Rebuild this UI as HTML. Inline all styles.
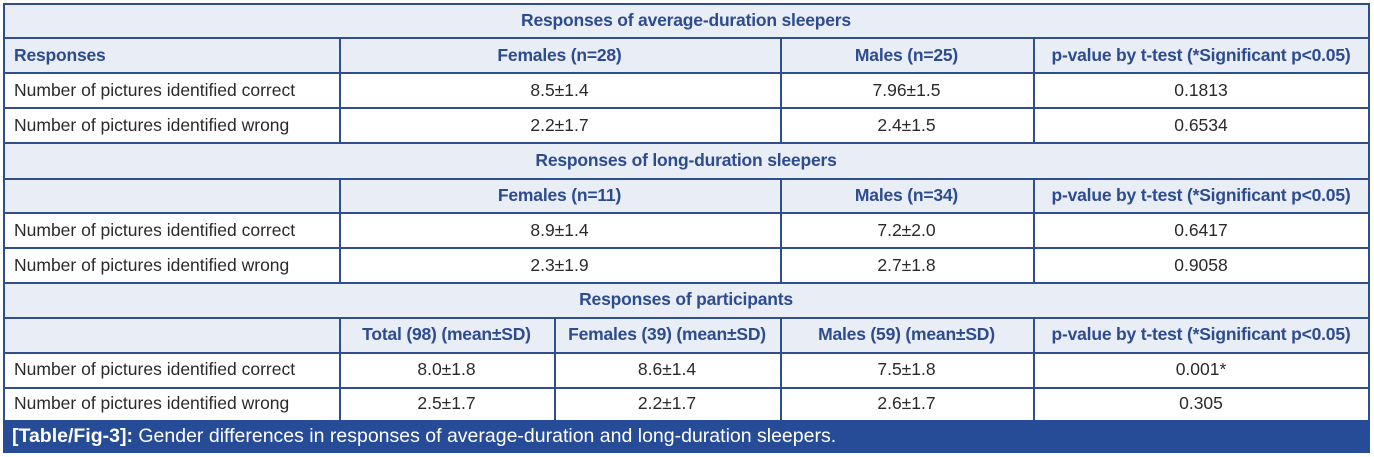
<!DOCTYPE html>
<html><head><meta charset="utf-8"><style>
body{margin:0;width:1374px;height:457px;background:#fff;position:relative;overflow:hidden;font-family:"Liberation Sans",Arial,sans-serif;}
.bg{position:absolute;left:3px;width:1366px;background:#e9edf6;}
.h{position:absolute;height:1.5px;background:#2f4e8c;}
.v{position:absolute;width:1.5px;background:#2f4e8c;}
.t{position:absolute;height:35px;line-height:35px;font-size:17.5px;color:#2a2a2a;text-align:center;white-space:nowrap;}
.b{color:#2d4c8e;font-weight:bold;font-size:17.5px;letter-spacing:-0.2px}
.l{text-align:left;padding-left:11px;}
.foot{position:absolute;left:3px;top:420px;width:1367px;height:33px;background:#264b97;color:#fff;font-size:19.5px;line-height:33px;padding-left:9px;box-sizing:border-box;white-space:nowrap;}
</style></head><body>
<div class="bg" style="top:3px;height:69px"></div>
<div class="bg" style="top:143px;height:69px"></div>
<div class="bg" style="top:282px;height:70px"></div>

<div class="h" style="left:3px;width:1367px;top:3px"></div>
<div class="h" style="left:3px;width:1367px;top:37px"></div>
<div class="h" style="left:3px;width:1367px;top:72px"></div>
<div class="h" style="left:3px;width:1367px;top:107px"></div>
<div class="h" style="left:3px;width:1367px;top:142px"></div>
<div class="h" style="left:3px;width:1367px;top:178px"></div>
<div class="h" style="left:3px;width:1367px;top:212px"></div>
<div class="h" style="left:3px;width:1367px;top:247px"></div>
<div class="h" style="left:3px;width:1367px;top:282px"></div>
<div class="h" style="left:3px;width:1367px;top:317px"></div>
<div class="h" style="left:3px;width:1367px;top:352px"></div>
<div class="h" style="left:3px;width:1367px;top:387px"></div>

<div class="v" style="left:3px;top:3px;height:418px"></div>
<div class="v" style="left:1368px;top:3px;height:418px"></div>

<div class="v" style="left:339px;top:37px;height:105px"></div>
<div class="v" style="left:780px;top:37px;height:105px"></div>
<div class="v" style="left:1033px;top:37px;height:105px"></div>

<div class="v" style="left:339px;top:178px;height:104px"></div>
<div class="v" style="left:780px;top:178px;height:104px"></div>
<div class="v" style="left:1033px;top:178px;height:104px"></div>

<div class="v" style="left:339px;top:317px;height:103px"></div>
<div class="v" style="left:554px;top:317px;height:103px"></div>
<div class="v" style="left:780px;top:317px;height:103px"></div>
<div class="v" style="left:1033px;top:317px;height:103px"></div>

<div class="t b" style="left:3px;width:1366px;top:3px">Responses of average-duration sleepers</div>
<div class="t b l" style="left:3px;width:325px;top:38px">Responses</div>
<div class="t b" style="left:339px;width:441px;top:38px">Females (n=28)</div>
<div class="t b" style="left:780px;width:253px;top:38px">Males (n=25)</div>
<div class="t b" style="left:1033px;width:336px;top:38px">p-value by t-test (*Significant p&lt;0.05)</div>
<div class="t l" style="left:3px;width:325px;top:73px">Number of pictures identified correct</div>
<div class="t" style="left:339px;width:441px;top:73px">8.5±1.4</div>
<div class="t" style="left:780px;width:253px;top:73px">7.96±1.5</div>
<div class="t" style="left:1033px;width:336px;top:73px">0.1813</div>
<div class="t l" style="left:3px;width:325px;top:108px">Number of pictures identified wrong</div>
<div class="t" style="left:339px;width:441px;top:108px">2.2±1.7</div>
<div class="t" style="left:780px;width:253px;top:108px">2.4±1.5</div>
<div class="t" style="left:1033px;width:336px;top:108px">0.6534</div>

<div class="t b" style="left:3px;width:1366px;top:143px">Responses of long-duration sleepers</div>
<div class="t b" style="left:339px;width:441px;top:178px">Females (n=11)</div>
<div class="t b" style="left:780px;width:253px;top:178px">Males (n=34)</div>
<div class="t b" style="left:1033px;width:336px;top:178px">p-value by t-test (*Significant p&lt;0.05)</div>
<div class="t l" style="left:3px;width:325px;top:213px">Number of pictures identified correct</div>
<div class="t" style="left:339px;width:441px;top:213px">8.9±1.4</div>
<div class="t" style="left:780px;width:253px;top:213px">7.2±2.0</div>
<div class="t" style="left:1033px;width:336px;top:213px">0.6417</div>
<div class="t l" style="left:3px;width:325px;top:248px">Number of pictures identified wrong</div>
<div class="t" style="left:339px;width:441px;top:248px">2.3±1.9</div>
<div class="t" style="left:780px;width:253px;top:248px">2.7±1.8</div>
<div class="t" style="left:1033px;width:336px;top:248px">0.9058</div>

<div class="t b" style="left:3px;width:1366px;top:282px">Responses of participants</div>
<div class="t b" style="left:339px;width:215px;top:317px">Total (98) (mean±SD)</div>
<div class="t b" style="left:554px;width:226px;top:317px">Females (39) (mean±SD)</div>
<div class="t b" style="left:780px;width:253px;top:317px">Males (59) (mean±SD)</div>
<div class="t b" style="left:1033px;width:336px;top:317px">p-value by t-test (*Significant p&lt;0.05)</div>
<div class="t l" style="left:3px;width:325px;top:352px">Number of pictures identified correct</div>
<div class="t" style="left:339px;width:215px;top:352px">8.0±1.8</div>
<div class="t" style="left:554px;width:226px;top:352px">8.6±1.4</div>
<div class="t" style="left:780px;width:253px;top:352px">7.5±1.8</div>
<div class="t" style="left:1033px;width:336px;top:352px">0.001*</div>
<div class="t l" style="left:3px;width:325px;top:386px">Number of pictures identified wrong</div>
<div class="t" style="left:339px;width:215px;top:386px">2.5±1.7</div>
<div class="t" style="left:554px;width:226px;top:386px">2.2±1.7</div>
<div class="t" style="left:780px;width:253px;top:386px">2.6±1.7</div>
<div class="t" style="left:1033px;width:336px;top:386px">0.305</div>

<div class="foot"><b>[Table/Fig-3]:</b> Gender differences in responses of average-duration and long-duration sleepers.</div>
</body></html>
